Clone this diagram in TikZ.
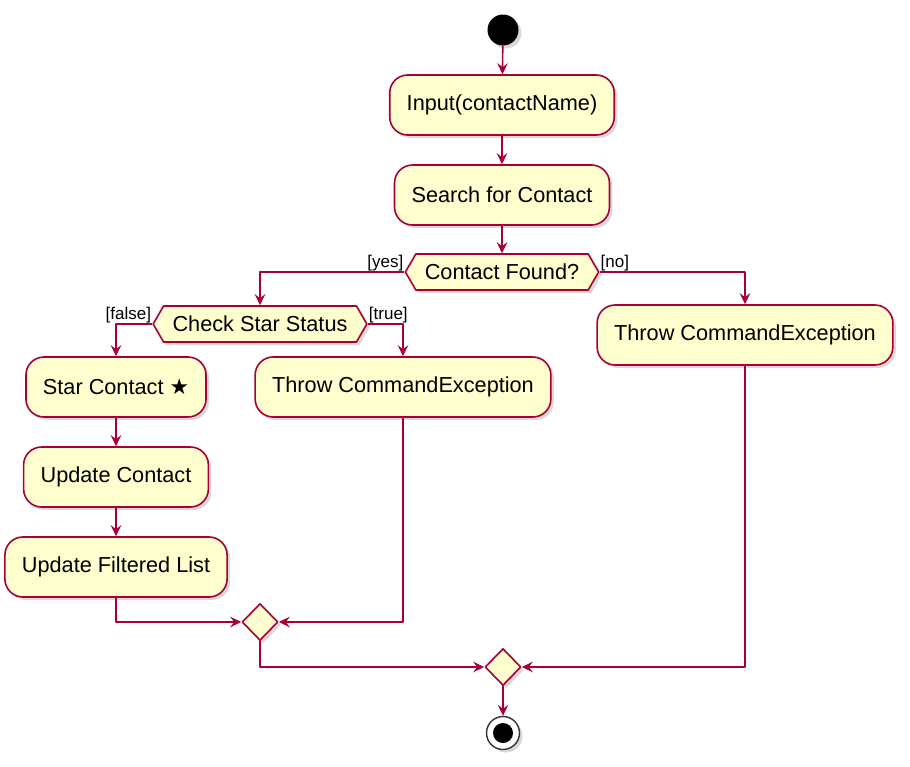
\documentclass[tikz,border=0pt]{standalone}
\usepackage{fontspec}
\setmainfont{Liberation Sans}
\newfontfamily\symfont{DejaVu Sans}
\usetikzlibrary{shapes.geometric,shapes.symbols,arrows.meta,shadows}
\definecolor{umlfill}{HTML}{FEFECE}
\definecolor{umlline}{HTML}{A80036}
\begin{document}
\begin{tikzpicture}[x=1pt,y=-1pt,line join=round,
  font=\fontsize{21.7}{24}\selectfont,
  >={Stealth[length=11pt,width=10.5pt,inset=4pt]},
  dropsh/.style={drop shadow={shadow xshift=3pt,shadow yshift=-3pt,opacity=.3}},
  act/.style={draw=umlline,fill=umlfill,line width=1.6pt,rounded corners=18pt,
    minimum height=60pt,inner xsep=17pt,dropsh},
  cond/.style={draw=umlline,fill=umlfill,line width=1.6pt,shape=signal,
    signal to=west and east,signal pointer angle=120,minimum height=36pt,
    inner xsep=9pt,dropsh},
  mergept/.style={draw=umlline,fill=umlfill,line width=1.6pt,diamond,inner sep=0pt,
    minimum width=36pt,minimum height=37pt,dropsh},
  flow/.style={draw=umlline,line width=1.6pt,->},
  guard/.style={font=\fontsize{17}{19}\selectfont,inner sep=1pt}]
  \useasboundingbox (0,0) rectangle (910,766);
  % activities
  \node[circle,fill=black,minimum size=31pt,inner sep=0pt,dropsh] (start) at (503,30) {};
  \node[act] (input) at (502,105) {Input(contactName)};
  \node[act] (search) at (502,195) {Search for Contact};
  \node[cond] (found) at (502,272) {Contact Found?};
  \node[cond] (check) at (260,324) {Check Star Status};
  \node[act] (throwA) at (745,335) {Throw CommandException};
  \node[act] (star) at (116,387) {Star Contact {\symfont ★}};
  \node[act] (throwB) at (403,387) {Throw CommandException};
  \node[act] (update) at (116,477) {Update Contact};
  \node[act] (filtered) at (116,567) {Update Filtered List};
  \node[mergept] (join1) at (260,622) {};
  \node[mergept] (join2) at (503,667) {};
  \node[circle,draw=black!80,fill=white,line width=1.4pt,minimum size=33pt,
    inner sep=0pt,dropsh] (stop) at (503,733) {};
  \node[circle,fill=black,minimum size=20pt,inner sep=0pt] (stopdot) at (stop) {};
  % guards
  \node[guard,anchor=south east] (yes) at (found.west) {[yes]};
  \node[guard,anchor=south west] (no) at (found.east) {[no]};
  \node[guard,anchor=south east] (false) at (check.west) {[false]};
  \node[guard,anchor=south west] (true) at (check.east) {[true]};
  % flows
  \draw[flow] (start) -- (input);
  \draw[flow] (input) -- (search);
  \draw[flow] (search) -- (found);
  \draw[flow] (found.west) -| (check.north);
  \draw[flow] (found.east) -| (throwA.north);
  \draw[flow] (check.west) -| (star.north);
  \draw[flow] (check.east) -| (throwB.north);
  \draw[flow] (star) -- (update);
  \draw[flow] (update) -- (filtered);
  \draw[flow] (filtered.south) |- (join1.west);
  \draw[flow] (throwB.south) |- (join1.east);
  \draw[flow] (join1.south) |- (join2.west);
  \draw[flow] (throwA.south) |- (join2.east);
  \draw[flow] (join2) -- (stop);
\end{tikzpicture}
\end{document}
